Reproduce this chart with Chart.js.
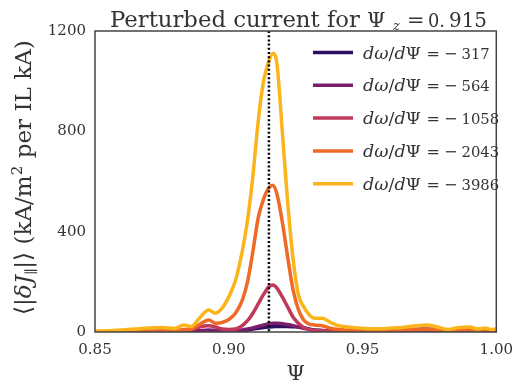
<!DOCTYPE html>
<html>
<head>
<meta charset="utf-8">
<script src="https://cdn.jsdelivr.net/npm/chart.js@4.4.1/dist/chart.umd.min.js"></script>
<style>
  html, body { margin: 0; padding: 0; background: #fff; }
  canvas { display: block; }
</style>
</head>
<body>
<canvas id="chart" width="522" height="385"></canvas>
<script>
// Psi grid (finer near the peak)
const psi = [0.850, 0.855, 0.860, 0.865, 0.870, 0.875, 0.880, 0.883, 0.886, 0.889,
             0.8925, 0.895, 0.8975, 0.900, 0.9025, 0.905, 0.907, 0.909, 0.911, 0.913,
             0.915, 0.9165, 0.918, 0.920, 0.922, 0.924, 0.926, 0.928, 0.930, 0.932,
             0.935, 0.938, 0.941, 0.945, 0.950, 0.955, 0.960, 0.965, 0.970, 0.974,
             0.978, 0.982, 0.986, 0.990, 0.993, 0.996, 0.998, 1.000];

// <|dJ_par|> for each dω/dΨ
const j317  = [1, 1, 1, 1, 1, 1, 1, 1, 1, 2,
               2, 2, 2, 2, 3, 5, 8, 12, 15, 18,
               20, 21, 22, 22, 22, 21, 20, 17, 12, 8,
               6, 4, 3, 2, 2, 2, 2, 3, 4, 5,
               4, 3, 2, 2, 2, 2, 2, 2];
const j564  = [1, 1, 1, 1, 1, 1, 2, 2, 3, 5,
               8, 6, 4, 4, 5, 8, 12, 16, 22, 28,
               33, 35, 35, 33, 30, 25, 20, 15, 10, 7,
               5, 4, 3, 3, 3, 4, 5, 7, 10, 12,
               8, 5, 5, 6, 4, 4, 3, 3];
const j1058 = [1, 1, 1, 1, 1, 2, 2, 3, 8, 20,
               25, 20, 12, 10, 12, 25, 45, 75, 112, 150,
               180, 187, 175, 140, 100, 60, 35, 18, 10, 6,
               5, 4, 3, 3, 3, 3, 3, 4, 5, 6,
               5, 4, 4, 4, 3, 3, 3, 3];
const j2043 = [2, 2, 3, 3, 4, 5, 5, 10, 12, 30,
               48, 35, 38, 50, 75, 125, 200, 320, 455, 530,
               575, 585, 550, 440, 300, 170, 90, 48, 32, 28,
               25, 15, 10, 8, 6, 5, 6, 8, 10, 12,
               9, 6, 8, 9, 6, 7, 5, 6];
const j3986 = [3, 5, 8, 12, 16, 18, 14, 28, 22, 55,
               88, 75, 95, 140, 205, 320, 445, 620, 840, 1000,
               1080, 1110, 1070, 800, 520, 295, 150, 100, 70, 55,
               55, 38, 25, 20, 15, 13, 15, 18, 25, 28,
               20, 10, 18, 20, 12, 16, 10, 12];

const slopes = ['317', '564', '1058', '2043', '3986'];
const series = [j317, j564, j1058, j2043, j3986];
const colors = ['#2d0f5e', '#7a1d6d', '#c0395a', '#ef6a27', '#fbb41a'];

const xTicks = [0.85, 0.90, 0.95, 1.00];
const yTicks = [0, 400, 800, 1200];
const psiZ = 0.915;

const FONT = "'DejaVu Serif', serif";
const INK = '#333333';

function setFont(ctx, size, italic) {
  ctx.font = (italic ? 'italic ' : '') + size + 'px ' + FONT;
}

// draw text stretched (via font size) so it spans the given width
function fitText(ctx, text, x, y, width, italic) {
  setFont(ctx, 20, italic);
  const size = 20 * width / ctx.measureText(text).width;
  setFont(ctx, size, italic);
  ctx.fillText(text, x, y);
  return size;
}

// run of pieces [{t, italic, rel, dy}], sizes relative to base; scaled to fit width
function drawRun(ctx, pieces, x, y, width) {
  const w = s => pieces.reduce((acc, p) => {
    setFont(ctx, s * (p.rel || 1), p.italic);
    return acc + ctx.measureText(p.t).width;
  }, 0);
  const base = 20 * width / w(20);
  let cx = x;
  pieces.forEach(p => {
    setFont(ctx, base * (p.rel || 1), p.italic);
    ctx.fillText(p.t, cx, y + (p.dy || 0) * base / 20);
    cx += ctx.measureText(p.t).width;
  });
}

const decorations = {
  id: 'decorations',
  afterDatasetsDraw(chart) {
    const { ctx, chartArea: a, scales } = chart;
    ctx.save();

    // vertical dotted line at Psi_z
    const xz = scales.x.getPixelForValue(psiZ);
    ctx.strokeStyle = '#000';
    ctx.lineWidth = 2.5;
    ctx.setLineDash([2, 2.2]);
    ctx.beginPath();
    ctx.moveTo(xz, a.top);
    ctx.lineTo(xz, a.bottom);
    ctx.stroke();
    ctx.setLineDash([]);

    // frame
    ctx.strokeStyle = '#444';
    ctx.lineWidth = 1.5;
    ctx.strokeRect(a.left, a.top, a.right - a.left, a.bottom - a.top);

    // legend
    ctx.textBaseline = 'alphabetic';
    ctx.textAlign = 'left';
    ctx.fillStyle = INK;
    slopes.forEach((s, i) => {
      const y = 52.5 + i * 32.8;
      ctx.strokeStyle = colors[i];
      ctx.lineWidth = 3.5;
      ctx.beginPath();
      ctx.moveTo(313, y);
      ctx.lineTo(353, y);
      ctx.stroke();
      const by = y + 6;
      drawRun(ctx, [
        { t: 'd\u03c9', italic: true },
        { t: '/' },
        { t: 'd', italic: true },
        { t: '\u03a8' }
      ], 363, by, 58);
      setFont(ctx, 16, false);
      ctx.fillText('=', 426.5, by);
      ctx.fillText('\u2212', 444, by);
      fitText(ctx, s, 461.5, by, s.length * 9.4, false);
    });

    // title
    fitText(ctx, 'Perturbed current for', 110, 27, 250, false);
    const ts = 21;
    setFont(ctx, ts, false);
    ctx.fillText('\u03a8', 367, 27);
    setFont(ctx, 13, true);
    ctx.fillText('z', 393, 30);
    setFont(ctx, ts, false);
    ctx.fillText('=', 407, 27);
    fitText(ctx, '0.', 428, 27, 17, false);
    fitText(ctx, '915', 449, 27, 38, false);

    // x label
    setFont(ctx, 21, false);
    ctx.textAlign = 'center';
    ctx.fillText('\u03a8', (a.left + a.right) / 2, 380);

    // y label
    ctx.textAlign = 'left';
    ctx.translate(31, 315);
    ctx.rotate(-Math.PI / 2);
    drawRun(ctx, [
      { t: '\u27e8|' },
      { t: '\u03b4J', italic: true },
      { t: '\u2225', rel: 0.6, dy: 4 },
      { t: '|\u27e9 (kA/m' },
      { t: '2', rel: 0.65, dy: -8 },
      { t: ' per IL kA)' }
    ], 0, 0, 275);

    ctx.restore();
  }
};

new Chart(document.getElementById('chart'), {
  type: 'line',
  data: {
    datasets: series.map((vals, i) => ({
      label: 'd\u03c9/d\u03a8 = \u2212' + slopes[i],
      data: psi.map((p, k) => ({ x: p, y: vals[k] })),
      borderColor: colors[i],
      borderWidth: 3.5,
      pointRadius: 0,
      fill: false,
      cubicInterpolationMode: 'monotone',
      order: series.length - i
    }))
  },
  options: {
    responsive: false,
    animation: false,
    layout: { padding: { left: 0, top: 31, right: 18, bottom: 0 } },
    plugins: { legend: { display: false }, tooltip: { enabled: false }, title: { display: false } },
    scales: {
      x: {
        type: 'linear',
        min: 0.85,
        max: 1.00,
        afterBuildTicks: s => { s.ticks = xTicks.map(v => ({ value: v })); },
        afterFit: s => { s.height = 53; },
        grid: { display: false, drawTicks: false },
        border: { display: false },
        ticks: {
          padding: 9,
          color: INK,
          font: { family: FONT, size: 15 },
          maxRotation: 0,
          callback: v => v.toFixed(2)
        }
      },
      y: {
        min: 0,
        max: 1200,
        afterBuildTicks: s => { s.ticks = yTicks.map(v => ({ value: v })); },
        afterFit: s => { s.width = 95; },
        grid: { display: false, drawTicks: false },
        border: { display: false },
        ticks: {
          padding: 9,
          color: INK,
          font: { family: FONT, size: 15 },
          callback: v => String(v)
        }
      }
    }
  },
  plugins: [decorations]
});
</script>
</body>
</html>
